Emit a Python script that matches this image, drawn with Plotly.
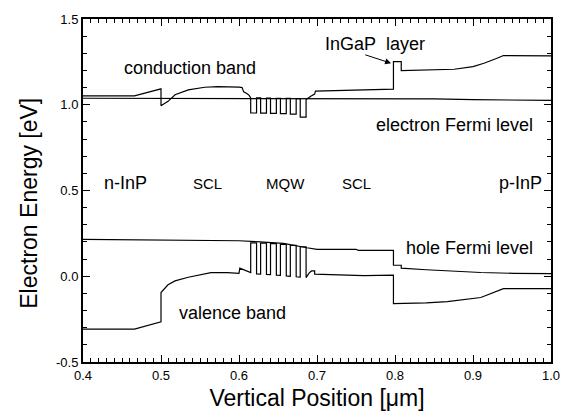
import plotly.graph_objects as go

# ---- data ----
cb_x = [0.400, 0.466, 0.500, 0.500, 0.509, 0.518, 0.535, 0.556, 0.573, 0.592, 0.600, 0.604, 0.606, 0.610, 0.613, 0.615,
        0.615, 0.6225, 0.6225, 0.6277, 0.6277, 0.6352, 0.6352, 0.6404, 0.6404, 0.6479, 0.6479, 0.6531, 0.6531, 0.6606,
        0.6606, 0.6658, 0.6658, 0.6733, 0.6733, 0.6785, 0.6785, 0.686, 0.686, 0.692, 0.697, 0.698, 0.720, 0.760, 0.798,
        0.798, 0.808, 0.808, 0.840, 0.876, 0.900, 0.914, 0.930, 0.939, 1.000]
cb_y = [1.052, 1.052, 1.093, 0.994, 1.020, 1.058, 1.087, 1.102, 1.106, 1.106, 1.103, 1.100, 1.075, 1.066, 1.055, 1.040,
        0.952, 0.952, 1.040, 1.040, 0.951, 0.951, 1.039, 1.039, 0.950, 0.950, 1.038, 1.038, 0.948, 0.948,
        1.037, 1.037, 0.945, 0.945, 1.036, 1.036, 0.928, 0.928, 1.030, 1.050, 1.062, 1.080, 1.082, 1.086, 1.091,
        1.252, 1.252, 1.199, 1.202, 1.207, 1.222, 1.242, 1.270, 1.287, 1.285]

vb_x = [0.400, 0.466, 0.500, 0.500, 0.509, 0.518, 0.535, 0.564, 0.585, 0.600, 0.601, 0.615,
        0.615, 0.6225, 0.6225, 0.6277, 0.6277, 0.6352, 0.6352, 0.6404, 0.6404, 0.6479, 0.6479, 0.6531, 0.6531, 0.6606,
        0.6606, 0.6658, 0.6658, 0.6733, 0.6733, 0.6785, 0.6785, 0.686, 0.686, 0.690, 0.693, 0.697, 0.697, 0.720, 0.760,
        0.798, 0.798, 0.840, 0.867, 0.910, 0.939, 1.000]
vb_y = [-0.308, -0.308, -0.266, -0.095, -0.050, -0.027, -0.006, 0.021, 0.021, 0.017, 0.047, 0.021,
        0.195, 0.195, 0.013, 0.012, 0.193, 0.193, 0.010, 0.009, 0.190, 0.190, 0.006, 0.005, 0.186, 0.186,
        0.002, 0.000, 0.180, 0.180, -0.003, -0.005, 0.172, 0.172, -0.008, 0.020, 0.031, 0.031, 0.012, 0.008, 0.004,
        0.006, -0.159, -0.155, -0.148, -0.124, -0.072, -0.072]

efn_x = [0.400, 0.800, 0.850, 0.900, 0.950, 1.000]
efn_y = [1.038, 1.038, 1.034, 1.030, 1.027, 1.025]

efp_x = [0.400, 0.500, 0.550, 0.600, 0.627, 0.657, 0.687, 0.700, 0.750, 0.753, 0.798, 0.798, 0.808, 0.808,
         0.840, 0.868, 0.910, 0.952, 1.000]
efp_y = [0.215, 0.212, 0.210, 0.207, 0.201, 0.192, 0.166, 0.157, 0.157, 0.151, 0.151, 0.064, 0.064, 0.047,
         0.038, 0.031, 0.022, 0.017, 0.015]

x_tickvals = [0.4, 0.5, 0.6, 0.7, 0.8, 0.9, 1.0]
x_ticktext = ["0.4", "0.5", "0.6", "0.7", "0.8", "0.9", "1.0"]
y_tickvals = [-0.5, 0.0, 0.5, 1.0, 1.5]
y_ticktext = ["-0.5", "0.0", "0.5", "1.0", "1.5"]

labels = [
    ("conduction band", 0.537, 1.217, 18),
    ("electron Fermi level", 0.876, 0.884, 18),
    ("n-InP", 0.455, 0.542, 18),
    ("SCL", 0.560, 0.542, 15),
    ("MQW", 0.659, 0.542, 15),
    ("SCL", 0.751, 0.542, 15),
    ("p-InP", 0.961, 0.542, 18),
    ("hole Fermi level", 0.896, 0.166, 18),
    ("valence band", 0.592, -0.212, 18),
    ("InGaP\u00a0\u00a0layer", 0.774, 1.352, 18),
]

FONT = "Liberation Sans, Arial, sans-serif"

fig = go.Figure()
for xs, ys in [(cb_x, cb_y), (vb_x, vb_y), (efn_x, efn_y), (efp_x, efp_y)]:
    fig.add_trace(go.Scatter(x=xs, y=ys, mode="lines",
                             line=dict(color="black", width=1.2),
                             showlegend=False, hoverinfo="skip"))

for txt, x, y, s in labels:
    fig.add_annotation(x=x, y=y, xref="x", yref="y", text=txt, showarrow=False,
                       font=dict(family=FONT, size=s, color="black"))

# arrow pointing to InGaP layer
fig.add_annotation(x=0.795, y=1.242, ax=0.760, ay=1.294, xref="x", yref="y",
                   axref="x", ayref="y", text="", showarrow=True,
                   arrowhead=2, arrowsize=1.2, arrowwidth=1, arrowcolor="black")

# y-axis title (placed as rotated text)
fig.add_annotation(x=-0.1158, y=0.4638, xref="paper", yref="paper",
                   text="Electron Energy [eV]", textangle=-90, showarrow=False,
                   xanchor="center", yanchor="middle",
                   font=dict(family=FONT, size=23, color="black"))

fig.update_layout(
    width=572, height=420,
    margin=dict(l=83, r=14, t=17, b=58),
    paper_bgcolor="white", plot_bgcolor="white",
    font=dict(family=FONT, color="black"),
    showlegend=False,
)
fig.update_xaxes(
    range=[0.4, 1.0], tickvals=x_tickvals, ticktext=x_ticktext,
    ticks="inside", ticklen=7, tickwidth=1, tickcolor="black",
    minor=dict(dtick=0.01, tick0=0.4, ticks="inside", ticklen=4, tickwidth=1, tickcolor="black", showgrid=False),
    showline=True, linecolor="black", linewidth=2, mirror="ticks",
    showgrid=False, zeroline=False,
    tickfont=dict(size=13, family=FONT),
    title=dict(text="Vertical Position [\u03bcm]", font=dict(size=23, family=FONT), standoff=8),
)
fig.update_yaxes(
    range=[-0.5, 1.5], tickvals=y_tickvals, ticktext=y_ticktext,
    ticks="inside", ticklen=7, tickwidth=1, tickcolor="black",
    minor=dict(dtick=0.1, tick0=0, ticks="inside", ticklen=4, tickwidth=1, tickcolor="black", showgrid=False),
    showline=True, linecolor="black", linewidth=2, mirror="ticks",
    showgrid=False, zeroline=False,
    tickfont=dict(size=13, family=FONT),
)

fig.write_html("out.html", config={"displayModeBar": False},
               post_script="document.body.style.margin='0px';")
